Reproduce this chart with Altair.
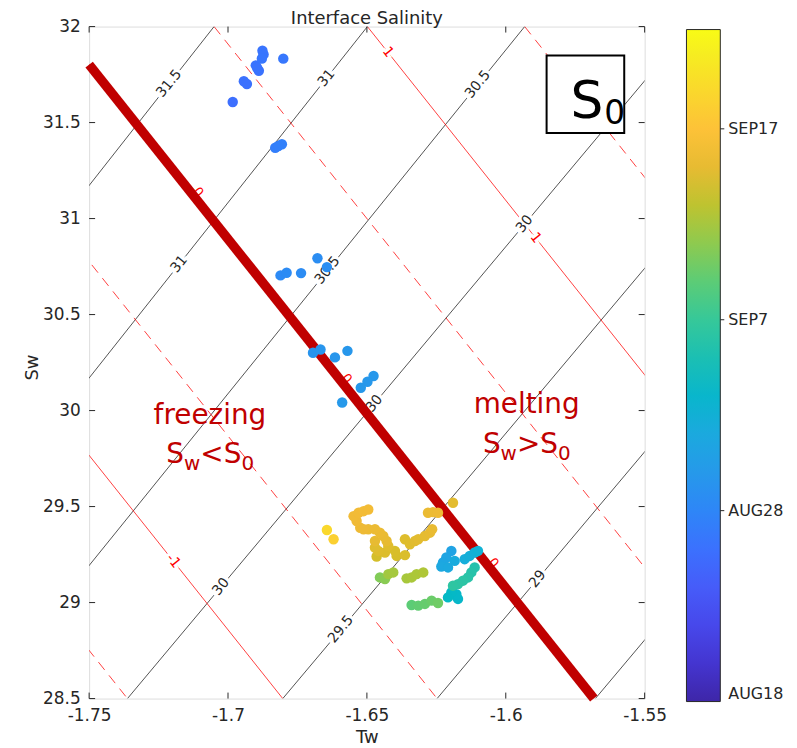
import altair as alt
import pandas as pd

FONT = "DejaVu Sans"
INK = "#262626"
DARK_RED = "#c00000"
RED = "#ff0000"

# ---------------- axes ----------------
TW_DOMAIN = [-1.75, -1.55]
SW_DOMAIN = [28.5, 32.0]
TW_TICKS = [-1.75, -1.7, -1.65, -1.6, -1.55]
SW_TICKS = [28.5, 29.0, 29.5, 30.0, 30.5, 31.0, 31.5, 32.0]
TITLE = "Interface Salinity"

# ---------------- observations (Tw, Sw, days since Aug 18) ----------------
obs_tw = [
    -1.6876, -1.6872, -1.6878, -1.6801, -1.6900, -1.6895, -1.6889, -1.6943, -1.6932, -1.6983,
    -1.6830, -1.6819, -1.6806,
    -1.6811, -1.6789, -1.6737, -1.6678, -1.6644,
    -1.6694, -1.6667, -1.6615, -1.6570, -1.6589, -1.6522, -1.6498, -1.6476,
    -1.6196, -1.6214, -1.6226, -1.6232, -1.6208, -1.6184, -1.6148, -1.6130, -1.6112, -1.6100,
    -1.6196, -1.6178, -1.6208, -1.6172,
    -1.6112, -1.6124, -1.6136, -1.6154, -1.6172, -1.6190,
    -1.6339, -1.6315, -1.6291, -1.6267, -1.6244,
    -1.6453, -1.6435, -1.6423, -1.6405, -1.6357, -1.6339, -1.6321, -1.6297,
    -1.6548, -1.6530, -1.6512, -1.6495, -1.6537, -1.6524, -1.6512, -1.6495, -1.6471, -1.6453,
    -1.6441, -1.6429, -1.6471, -1.6471, -1.6459, -1.6435, -1.6423, -1.6465, -1.6399, -1.6393,
    -1.6363, -1.6363, -1.6345, -1.6327, -1.6315, -1.6291, -1.6273, -1.6265, -1.6280, -1.6262,
    -1.6244, -1.6190,
    -1.6644, -1.6620,
]
obs_sw = [
    31.874, 31.855, 31.834, 31.833, 31.798, 31.784, 31.770, 31.715, 31.701, 31.607,
    31.369, 31.378, 31.387,
    30.704, 30.718, 30.716, 30.793, 30.747,
    30.301, 30.318, 30.277, 30.311, 30.042, 30.119, 30.150, 30.180,
    29.269, 29.235, 29.209, 29.188, 29.183, 29.217, 29.226, 29.243, 29.261, 29.269,
    29.053, 29.044, 29.027, 29.019,
    29.183, 29.157, 29.131, 29.114, 29.096, 29.088,
    28.987, 28.984, 28.993, 29.010, 28.998,
    29.131, 29.122, 29.148, 29.157, 29.126, 29.131, 29.148, 29.157,
    29.450, 29.468, 29.476, 29.485, 29.425, 29.390, 29.382, 29.382, 29.382, 29.364,
    29.347, 29.321, 29.321, 29.287, 29.269, 29.261, 29.295, 29.240, 29.269, 29.243,
    29.247, 29.330, 29.304, 29.321, 29.330, 29.347, 29.364, 29.382, 29.468, 29.471,
    29.468, 29.520,
    29.378, 29.330,
]
obs_day = [
    8.3, 8.4, 8.5, 8.6, 8.2, 8.2, 8.1, 8.0, 8.0, 7.8,
    9.2, 9.3, 9.4,
    10.4, 10.5, 10.6, 10.7, 10.8,
    11.4, 11.5, 11.6, 11.7, 12.0, 11.9, 11.8, 11.8,
    13.2, 13.4, 13.6, 13.8, 13.9, 14.2, 14.6, 14.8, 15.0, 15.2,
    16.5, 16.3, 16.6, 16.2,
    18.5, 18.7, 18.9, 19.1, 19.2, 19.3,
    22.0, 22.2, 22.4, 22.6, 22.8,
    23.5, 23.8, 24.8, 24.9, 25.0, 25.1, 25.2, 25.3,
    28.6, 28.7, 28.8, 28.9, 28.5, 28.4, 28.4, 28.3, 28.3, 28.2,
    28.1, 28.0, 28.0, 27.6, 27.5, 27.4, 27.6, 27.0, 27.2, 27.1,
    27.3, 27.5, 27.6, 27.7, 27.8, 27.9, 28.0, 28.1, 28.2, 28.3,
    28.4, 27.8,
    32.0, 31.3,
]

# ---------------- colour bar ----------------
DAY_DOMAIN = [0, 35.2]
CB_VALUES = [0, 10, 20, 30]
CB_LABELS = ["AUG18", "AUG28", "SEP7", "SEP17"]
PARULA = ["#3e26a8", "#4332cb", "#4741e5", "#4852f4", "#4563fd", "#3875fe", "#2e87f7",
          "#2797eb", "#20a5e3", "#12b1d6", "#02bac3", "#24c1ae", "#37c897", "#57cc7a",
          "#81cc59", "#abc739", "#d1bf27", "#f0ba36", "#fec338", "#fad62d", "#f5e924",
          "#f9fb15"]

# ---------------- contour fields (Tw where each contour meets Sw=32 and Sw=28.5) ----
SW_REF_TOP = 32.0
SW_REF_BOT = 28.5
s0_levels = [31.5, 31.0, 30.5, 30.0, 29.5, 29.0, 28.5]
s0_tw_top = [-1.70502, -1.64982, -1.59319, -1.53365, -1.47680, -1.42124, -1.36425]
s0_tw_bot = [-1.89524, -1.84139, -1.78872, -1.73620, -1.68029, -1.62473, -1.56774]

melt_levels = [-1.5, -1.0, -0.5, 0.0, 0.5, 1.0, 1.5]
melt_tw_top = [-1.92882, -1.87291, -1.81735, -1.76090, -1.70502, -1.64982, -1.59319]
melt_tw_bot = [-1.73620, -1.68029, -1.62473, -1.56830, -1.51240, -1.45720, -1.40057]

s0_label_level = [31.5, 31.0, 31.0, 30.5, 30.5, 30.0, 30.0, 30.0, 29.5, 29.0]
s0_label_tw = [-1.72115, -1.66452, -1.71756, -1.61004, -1.66416, -1.59319, -1.64731,
               -1.70251, -1.65932, -1.58853]
melt_label_level = [1.0, 1.0, -1.0]
melt_label_tw = [-1.64247, -1.58925, -1.71971]
zero_label_tw = [-1.71237, -1.65892, -1.60609]


def on_line(tw, top, bot):
    t = (tw - top) / (bot - top)
    return SW_REF_TOP + t * (SW_REF_BOT - SW_REF_TOP)


def lines_df(levels, tops, bots):
    rows = []
    for lv, a, b in zip(levels, tops, bots):
        rows.append({"level": lv, "tw": a, "sw": SW_REF_TOP})
        rows.append({"level": lv, "tw": b, "sw": SW_REF_BOT})
    return pd.DataFrame(rows)


def labels_df(lv_list, tw_list, levels, tops, bots):
    rows = []
    for lv, tw in zip(lv_list, tw_list):
        i = levels.index(lv)
        rows.append({"tw": tw, "sw": on_line(tw, tops[i], bots[i]), "t": f"{lv:g}"})
    return pd.DataFrame(rows)


W, H = 558, 675
CB_X, CB_Y, CB_LEN, CB_THICK = W + 42, 3, 675, 34
xs = alt.Scale(domain=TW_DOMAIN, nice=False, zero=False)
ys = alt.Scale(domain=SW_DOMAIN, nice=False, zero=False)

x_axis = alt.Axis(values=TW_TICKS, labelExpr="'' + datum.value", title="Tw", ticks=False,
                  domain=False, grid=False, labelFont=FONT, labelFontSize=17, labelColor=INK,
                  labelPadding=9, labelFlush=False, titleFont=FONT, titleFontSize=18,
                  titleFontWeight="normal", titleColor=INK, titlePadding=5)
y_axis = alt.Axis(values=SW_TICKS, labelExpr="'' + datum.value", title="Sw", ticks=False,
                  domain=False, grid=False, labelFont=FONT, labelFontSize=17, labelColor=INK,
                  labelPadding=9, titleFont=FONT, titleFontSize=18, titleFontWeight="normal",
                  titleColor=INK, titleAngle=270, titleX=-57, titleY=342, titleAlign="center",
                  titleBaseline="middle")


def X(field="tw"):
    return alt.X(f"{field}:Q", scale=xs, axis=x_axis)


def Y(field="sw"):
    return alt.Y(f"{field}:Q", scale=ys, axis=y_axis)


s0_lines = lines_df(s0_levels, s0_tw_top, s0_tw_bot)
melt_lines = lines_df(melt_levels, melt_tw_top, melt_tw_bot)
melt_solid = melt_lines[melt_lines["level"] % 1 == 0]
melt_dash = melt_lines[melt_lines["level"] % 1 != 0]

layers = []
# black S0 contours
layers.append(
    alt.Chart(s0_lines).mark_line(clip=True, color="#1a1a1a", strokeWidth=0.75).encode(
        x=X(), y=Y(), detail="level:N"))
# red melt-rate contours
layers.append(
    alt.Chart(melt_solid).mark_line(clip=True, color=RED, strokeWidth=0.75).encode(
        x=X(), y=Y(), detail="level:N"))
layers.append(
    alt.Chart(melt_dash).mark_line(clip=True, color=RED, strokeWidth=0.75,
                                   strokeDash=[10, 7]).encode(
        x=X(), y=Y(), detail="level:N"))

# contour labels
s0_lab = labels_df(s0_label_level, s0_label_tw, s0_levels, s0_tw_top, s0_tw_bot)
melt_lab = labels_df(melt_label_level, melt_label_tw, melt_levels, melt_tw_top, melt_tw_bot)
for df, ang, col in [(s0_lab, 309, INK), (melt_lab, 51, RED)]:
    layers.append(alt.Chart(df).mark_text(font=FONT, fontSize=14, angle=ang, color="white",
                                          stroke="white", strokeWidth=6, align="center",
                                          baseline="middle").encode(x=X(), y=Y(), text="t:N"))
    layers.append(alt.Chart(df).mark_text(font=FONT, fontSize=14, angle=ang, color=col,
                                          align="center", baseline="middle").encode(
        x=X(), y=Y(), text="t:N"))

# "0" labels peeking from under the thick zero line
i0 = melt_levels.index(0.0)
zero_lab = pd.DataFrame({
    "tw": zero_label_tw,
    "sw": [on_line(t, melt_tw_top[i0], melt_tw_bot[i0]) for t in zero_label_tw],
    "t": ["0"] * len(zero_label_tw)})
layers.append(alt.Chart(zero_lab).mark_text(font=FONT, fontSize=13, angle=51, color=RED,
                                            dy=-6, align="center", baseline="middle").encode(
    x=X(), y=Y(), text="t:N"))

# thick zero line (S_w = S_0)
thick = pd.DataFrame({
    "tw": [TW_DOMAIN[0], melt_tw_bot[i0]],
    "sw": [on_line(TW_DOMAIN[0], melt_tw_top[i0], melt_tw_bot[i0]), SW_REF_BOT]})
layers.append(alt.Chart(thick).mark_line(color=DARK_RED, strokeWidth=9.5, strokeCap="butt").encode(
    x=X(), y=Y()))

# observations
obs = pd.DataFrame({"tw": obs_tw, "sw": obs_sw, "day": obs_day}).sort_values("day")
label_expr = "[" + ",".join(f"'{s}'" for s in CB_LABELS) + "][indexof([" + \
    ",".join(str(v) for v in CB_VALUES) + "], datum.value)]"
layers.append(
    alt.Chart(obs).mark_circle(size=110, opacity=1).encode(
        x=X(), y=Y(),
        color=alt.Color("day:Q",
                        scale=alt.Scale(domain=DAY_DOMAIN, range=PARULA, interpolate="rgb"),
                        legend=alt.Legend(orient="none", legendX=CB_X, legendY=CB_Y,
                                          direction="vertical", gradientLength=CB_LEN,
                                          gradientThickness=CB_THICK, values=CB_VALUES,
                                          labelExpr=label_expr, title=None, labelFont=FONT,
                                          labelFontSize=16, labelColor=INK, labelOffset=8,
                                          labelBaseline="middle", gradientStrokeColor=INK,
                                          gradientStrokeWidth=1, padding=0)),
    )
)

# colour-bar tick marks at the labelled dates
for v in CB_VALUES[1:]:
    ypix = CB_Y + CB_LEN * (1 - (v - DAY_DOMAIN[0]) / (DAY_DOMAIN[1] - DAY_DOMAIN[0]))
    layers.append(alt.Chart(pd.DataFrame({"v": [v]})).mark_rule(color=INK, strokeWidth=1).encode(
        x=alt.value(CB_X + CB_THICK - 3), x2=alt.value(CB_X + CB_THICK + 4),
        y=alt.value(ypix)))

# region annotations
words = pd.DataFrame({"tw": [-1.70652, -1.59247], "sw": [29.931, 29.988],
                      "t": ["freezing", "melting"]})
layers.append(alt.Chart(words).mark_text(font=FONT, fontSize=28, color=DARK_RED, align="center",
                                         baseline="alphabetic").encode(x=X(), y=Y(), text="t:N"))

# S_w < S_0 / S_w > S_0 (built from pieces for the subscripts)
formula_anchor = pd.DataFrame({"tw": [-1.72222, -1.60824], "sw": [29.729, 29.781],
                               "rel": ["<", ">"]})
pieces = [("S", 28, 0.0, 0), ("w", 20, 17.8, 7), (None, 28, 34.2, 0), ("S", 28, 57.7, 0),
          ("0", 20, 75.5, 7)]
for txt, fs, dx, dy in pieces:
    df = formula_anchor.copy()
    df["t"] = df["rel"] if txt is None else txt
    layers.append(alt.Chart(df).mark_text(font=FONT, fontSize=fs, color=DARK_RED, align="left",
                                          baseline="alphabetic", dx=dx, dy=dy).encode(
        x=X(), y=Y(), text="t:N"))

# S0 box
box = pd.DataFrame({"tw": [-1.58530], "tw2": [-1.55735], "sw": [31.4452], "sw2": [31.8496]})
layers.append(alt.Chart(box).mark_rect(fill="white", stroke="black", strokeWidth=2).encode(
    x=X(), x2="tw2:Q", y=Y(), y2="sw2:Q"))
box_txt = pd.DataFrame({"tw": [-1.57670], "sw": [31.5245]})
for txt, fs, dx, dy in [("S", 52, 0, 0), ("0", 33, 34, 6)]:
    df = box_txt.copy()
    df["t"] = txt
    layers.append(alt.Chart(df).mark_text(font=FONT, fontSize=fs, color="black", align="left",
                                          baseline="alphabetic", dx=dx, dy=dy).encode(
        x=X(), y=Y(), text="t:N"))

# inward ticks on all four sides
xt = pd.DataFrame({"tw": TW_TICKS})
yt = pd.DataFrame({"sw": SW_TICKS})
for y0, y1 in [(H, H - 6), (0, 6)]:
    layers.append(alt.Chart(xt).mark_rule(color=INK, strokeWidth=1).encode(
        x=X(), y=alt.value(y0), y2=alt.value(y1)))
for x0, x1 in [(0, 6), (W, W - 6)]:
    layers.append(alt.Chart(yt).mark_rule(color=INK, strokeWidth=1).encode(
        y=Y(), x=alt.value(x0), x2=alt.value(x1)))

# plot title
layers.append(alt.Chart(pd.DataFrame({"t": [TITLE]})).mark_text(
    font=FONT, fontSize=18, color=INK, align="center", baseline="alphabetic").encode(
    x=alt.value(W / 2), y=alt.value(-2.5), text="t:N"))

chart = alt.layer(*layers).properties(
    width=W, height=H,
    padding={"left": 81.5, "top": 17, "right": 145, "bottom": 48},
    autosize=alt.AutoSizeParams(type="none"),
).configure_view(stroke=INK, strokeWidth=1).configure(font=FONT)

chart.save("out.html", embed_options={"renderer": "svg", "actions": False})
